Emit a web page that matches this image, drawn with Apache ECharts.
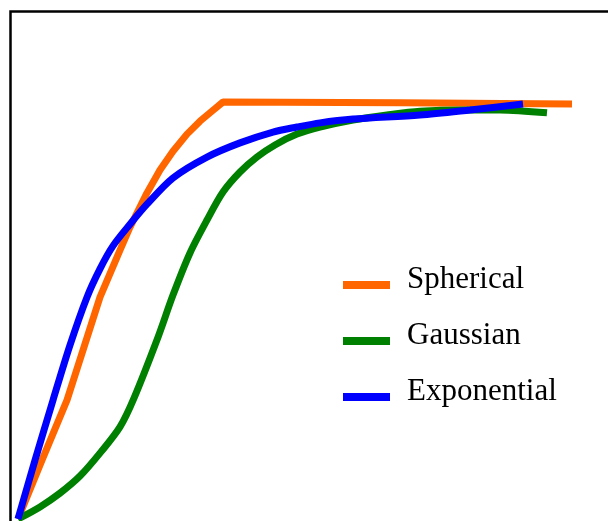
<!DOCTYPE html>
<html>
<head>
<meta charset="utf-8">
<style>
  html, body { margin: 0; padding: 0; background: #fff; }
  #chart { width: 608px; height: 521px; }
</style>
<script src="https://cdn.jsdelivr.net/npm/echarts@6/dist/echarts.min.js"></script>
</head>
<body>
<div id="chart"></div>
<script>
// lag distance / semivariance pairs
const spherical = [
    [0, 0], [2.4, 0.141], [4.9, 0.285], [8.2, 0.532], [10.2, 0.645],
    [11.2, 0.700], [12.9, 0.782], [14.2, 0.837], [15.5, 0.882],
    [16.9, 0.923], [18.2, 0.954], [19.4, 0.978], [20.5, 1.0],
    [38.2, 0.998], [55.4, 0.995]
];
const gaussian = [
    [0, 0], [2.2, 0.029], [4.2, 0.062], [6.2, 0.103], [8.3, 0.161],
    [10.2, 0.221], [11.6, 0.290], [14.0, 0.436], [15.5, 0.537],
    [17.2, 0.638], [18.9, 0.717], [20.5, 0.784], [22.2, 0.832],
    [23.9, 0.868], [25.7, 0.897], [27.9, 0.923], [30.2, 0.940],
    [33.5, 0.957], [36.9, 0.969], [40.2, 0.978], [44.9, 0.981],
    [48.2, 0.981], [52.9, 0.974]
];
const exponential = [
    [0, 0], [1.7, 0.141], [3.5, 0.285], [5.2, 0.417], [6.9, 0.532],
    [8.2, 0.600], [9.5, 0.655], [11.2, 0.707], [12.9, 0.755],
    [15.5, 0.818], [18.9, 0.868], [22.2, 0.902], [25.5, 0.928],
    [27.9, 0.940], [30.2, 0.950], [33.5, 0.959], [40.2, 0.969],
    [45.2, 0.981], [50.5, 0.995]
];
const names = ['Spherical', 'Gaussian', 'Exponential'];
const colors = ['#ff6600', '#008000', '#0000ff'];

const chart = echarts.init(document.getElementById('chart'));

function lineSeries(name, data, color, smooth) {
    return {
        name: name,
        type: 'line',
        data: data,
        showSymbol: false,
        clip: false,
        silent: true,
        smooth: smooth,
        lineStyle: { color: color, width: 7 },
        itemStyle: { color: color }
    };
}

chart.setOption({
    animation: false,
    color: colors,
    grid: { left: 18, right: 0, top: 102, bottom: 2 },
    xAxis: { type: 'value', min: 0, max: 59, show: false },
    yAxis: { type: 'value', min: 0, max: 1, show: false },
    legend: {
        orient: 'vertical',
        left: 338,
        top: 259,
        icon: 'rect',
        itemWidth: 47,
        itemHeight: 8,
        itemGap: 25,
        data: names,
        formatter: '{t|{name}}',
        textStyle: {
            rich: {
                t: {
                    fontFamily: 'Liberation Serif',
                    fontSize: 31,
                    color: '#000',
                    padding: [0, 0, 11, 12]
                }
            }
        }
    },
    graphic: [{
        type: 'rect',
        shape: { x: 10.5, y: 11.5, width: 700, height: 600 },
        style: { fill: 'none', stroke: '#000', lineWidth: 2.5 },
        silent: true
    }],
    series: [
        lineSeries(names[0], spherical, colors[0], false),
        lineSeries(names[1], gaussian, colors[1], 0.3),
        lineSeries(names[2], exponential, colors[2], 0.3)
    ]
});
</script>
</body>
</html>
